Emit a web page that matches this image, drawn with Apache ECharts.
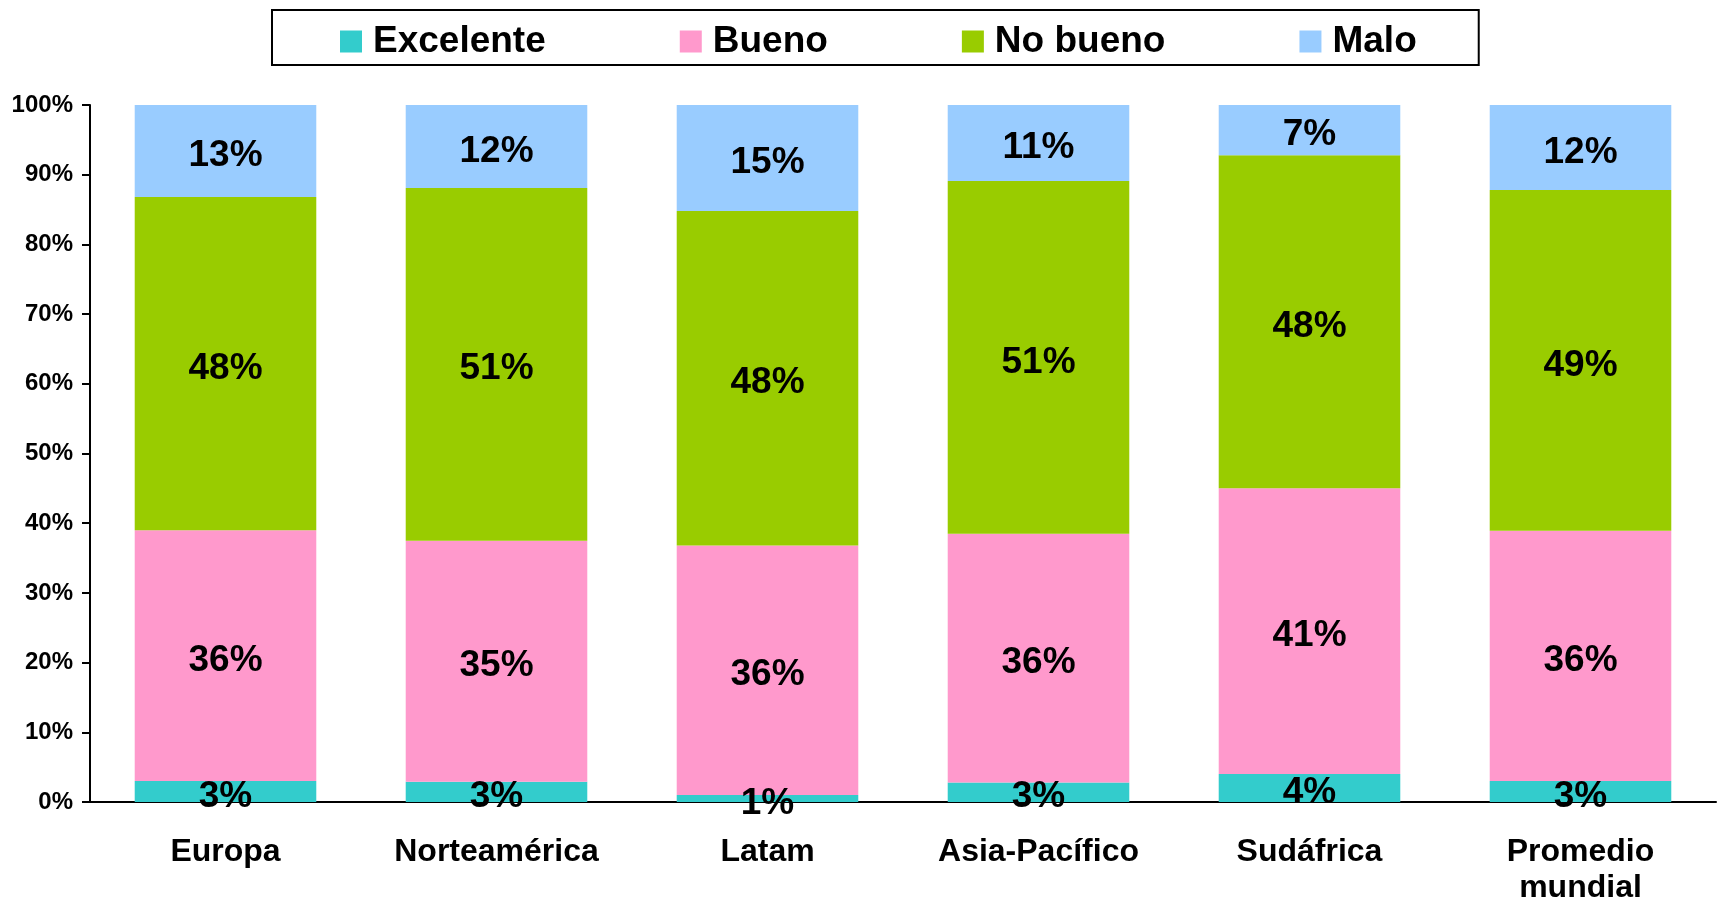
<!DOCTYPE html>
<html>
<head>
<meta charset="utf-8">
<title>Calificación por región</title>
<script src="https://cdn.jsdelivr.net/npm/echarts@6.0.0/dist/echarts.min.js"></script>
<style>
  html, body { margin: 0; padding: 0; background: #fff; }
  #chart { width: 1721px; height: 906px; }
</style>
</head>
<body>
<div id="chart"></div>
<script>
// regiones
var categories = ['Europa', 'Norteamérica', 'Latam', 'Asia-Pacífico', 'Sudáfrica', 'Promedio\nmundial'];

var excelente = [3.0, 2.9, 1.0, 2.8, 4.0, 3.0];
var bueno     = [36.0, 34.6, 35.8, 35.7, 41.0, 35.9];
var noBueno   = [47.8, 50.6, 48.0, 50.6, 47.8, 48.9];
var malo      = [13.2, 11.9, 15.2, 10.9, 7.2, 12.2];

var yTicks = [0, 10, 20, 30, 40, 50, 60, 70, 80, 90, 100];

var font = '"Liberation Sans", Arial, sans-serif';
var colors = ['#33cccc', '#ff99cc', '#99cc00', '#99ccff'];

function makeSeries(name, data, idx) {
	return {
		name: name,
		type: 'bar',
		stack: 'total',
		barCategoryGap: '33%',
		data: data,
		itemStyle: { color: colors[idx] },
		label: {
			show: true,
			position: 'inside',
			offset: [0, 5],
			color: '#000',
			fontFamily: font,
			fontWeight: 'bold',
			fontSize: 37,
			formatter: function (p) { return Math.round(p.value) + '%'; }
		}
	};
}

var chart = echarts.init(document.getElementById('chart'));
chart.setOption({
	animation: false,
	backgroundColor: '#fff',
	legend: {
		top: 10,
		left: 272,
		padding: [13, 62, 5, 68],
		borderColor: '#000',
		borderWidth: 2,
		itemWidth: 22,
		itemHeight: 22,
		itemGap: 134,
		icon: 'rect',
		textStyle: {
			color: '#000',
			fontFamily: font,
			fontWeight: 'bold',
			fontSize: 37,
			padding: [0, 0, 0, 6]
		},
		data: ['Excelente', 'Bueno', 'No bueno', 'Malo']
	},
	grid: {
		left: 90,
		right: 5,
		top: 105,
		bottom: 103
	},
	xAxis: {
		type: 'category',
		data: categories,
		axisLine: { lineStyle: { color: '#000', width: 2 } },
		axisTick: { length: 10, lineStyle: { color: '#000', width: 2 } },
		axisLabel: {
			color: '#000',
			fontFamily: font,
			fontWeight: 'bold',
			fontSize: 32,
			lineHeight: 36,
			margin: 32
		}
	},
	yAxis: {
		type: 'value',
		min: yTicks[0],
		max: yTicks[yTicks.length - 1],
		interval: 10,
		splitLine: { show: false },
		axisLine: { show: true, lineStyle: { color: '#000', width: 2 } },
		axisTick: { show: true, length: 8, lineStyle: { color: '#000', width: 2 } },
		axisLabel: {
			color: '#000',
			fontFamily: font,
			fontWeight: 'bold',
			fontSize: 24,
			margin: 17,
			formatter: '{value}%'
		}
	},
	series: [
		makeSeries('Excelente', excelente, 0),
		makeSeries('Bueno', bueno, 1),
		makeSeries('No bueno', noBueno, 2),
		makeSeries('Malo', malo, 3)
	]
});
</script>
</body>
</html>
